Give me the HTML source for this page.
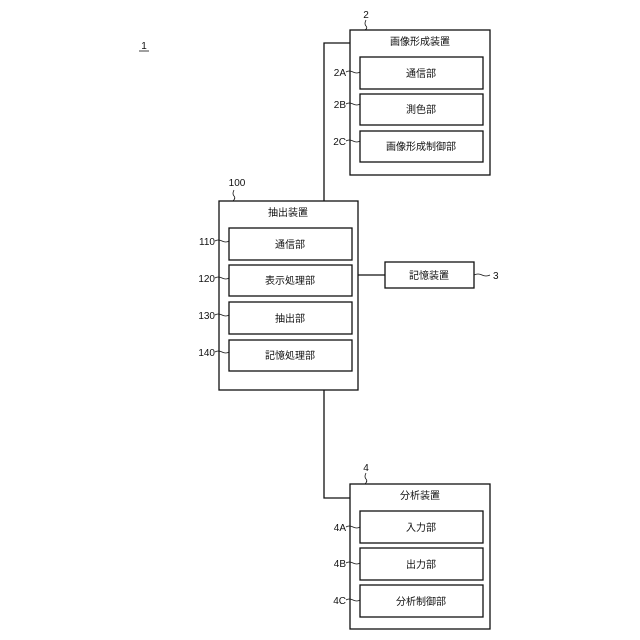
<!DOCTYPE html>
<html><head><meta charset="utf-8"><style>
html,body{margin:0;padding:0;background:#fff;}
svg{display:block;}
text{font-family:"Liberation Sans","Noto Sans CJK JP",sans-serif;font-size:10px;fill:#111;}
</style></head><body>
<svg width="640" height="640" viewBox="0 0 640 640" xmlns="http://www.w3.org/2000/svg">
<g fill="none" stroke="#111" stroke-width="1.3">
<!-- connectors -->
<polyline points="350,43 324,43 324,201"/>
<polyline points="324,390 324,498 350,498"/>
<line x1="358" y1="275" x2="385" y2="275"/>
<!-- box 2 -->
<rect x="350" y="30" width="140" height="145"/>
<rect x="360" y="57" width="123" height="32"/>
<rect x="360" y="94" width="123" height="31"/>
<rect x="360" y="131" width="123" height="31"/>
<!-- box 100 -->
<rect x="219" y="201" width="139" height="189"/>
<rect x="229" y="228" width="123" height="32"/>
<rect x="229" y="265" width="123" height="31"/>
<rect x="229" y="302" width="123" height="32"/>
<rect x="229" y="340" width="123" height="31"/>
<!-- storage -->
<rect x="385" y="262" width="89" height="26"/>
<!-- box 4 -->
<rect x="350" y="484" width="140" height="145"/>
<rect x="360" y="511" width="123" height="32"/>
<rect x="360" y="548" width="123" height="32"/>
<rect x="360" y="585" width="123" height="32"/>
</g>
<g fill="none" stroke="#111" stroke-width="0.8">
<!-- leader squiggles -->
<path d="M346,72 q3,-2 7,0 t7,0"/>
<path d="M346,104 q3,-2 7,0 t7,0"/>
<path d="M346,141 q3,-2 7,0 t7,0"/>
<path d="M215,241 q3,-2 7,0 t7,0"/>
<path d="M215,278 q3,-2 7,0 t7,0"/>
<path d="M215,315 q3,-2 7,0 t7,0"/>
<path d="M215,352 q3,-2 7,0 t7,0"/>
<path d="M346,527 q3,-2 7,0 t7,0"/>
<path d="M346,563 q3,-2 7,0 t7,0"/>
<path d="M346,600 q3,-2 7,0 t7,0"/>
<path d="M474,275 q4,-2 8,0 t8,0"/>
<path d="M366,20 q-2,4 0,6 t-1,4"/>
<path d="M234,190 q-2,4 0,6 t-1,5"/>
<path d="M366,473 q-2,4 0,6 t-1,5"/>
<line x1="139" y1="51" x2="149" y2="51"/>
</g>
<g>
<text x="144" y="49" text-anchor="middle">1</text>
<text x="366" y="18" text-anchor="middle">2</text>
<text x="237" y="186" text-anchor="middle">100</text>
<text x="366" y="471" text-anchor="middle">4</text>
<text x="493" y="279">3</text>
<text x="420" y="45" text-anchor="middle">画像形成装置</text>
<text x="421" y="77" text-anchor="middle">通信部</text>
<text x="421" y="113" text-anchor="middle">測色部</text>
<text x="421" y="150" text-anchor="middle">画像形成制御部</text>
<text x="288" y="216" text-anchor="middle">抽出装置</text>
<text x="290" y="248" text-anchor="middle">通信部</text>
<text x="290" y="284" text-anchor="middle">表示処理部</text>
<text x="290" y="322" text-anchor="middle">抽出部</text>
<text x="290" y="359" text-anchor="middle">記憶処理部</text>
<text x="429" y="279" text-anchor="middle">記憶装置</text>
<text x="420" y="499" text-anchor="middle">分析装置</text>
<text x="421" y="531" text-anchor="middle">入力部</text>
<text x="421" y="568" text-anchor="middle">出力部</text>
<text x="421" y="605" text-anchor="middle">分析制御部</text>
<g text-anchor="end">
<text x="346" y="76">2A</text>
<text x="346" y="108">2B</text>
<text x="346" y="145">2C</text>
<text x="215" y="245">110</text>
<text x="215" y="282">120</text>
<text x="215" y="319">130</text>
<text x="215" y="356">140</text>
<text x="346" y="531">4A</text>
<text x="346" y="567">4B</text>
<text x="346" y="604">4C</text>
</g>
</g>
</svg>
</body></html>
